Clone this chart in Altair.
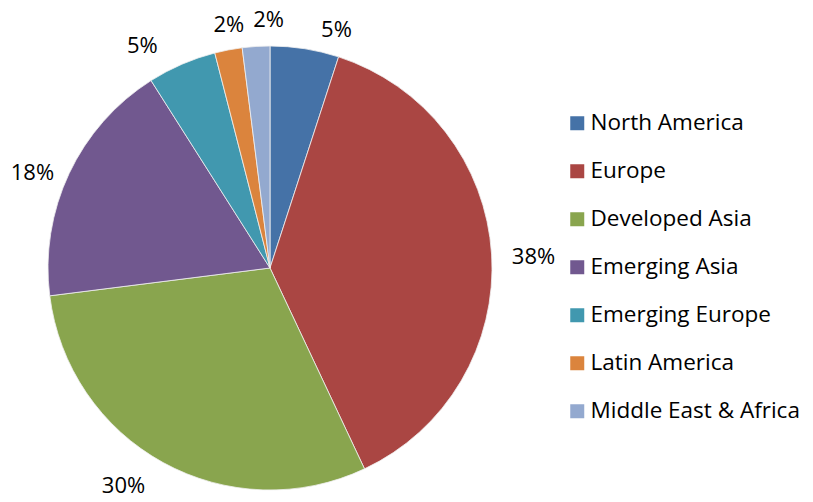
import altair as alt
import pandas as pd

regions = ["North America", "Europe", "Developed Asia", "Emerging Asia",
           "Emerging Europe", "Latin America", "Middle East & Africa"]
shares = [5, 38, 30, 18, 5, 2, 2]
colors = ["#4572A7", "#AA4643", "#89A54E", "#71588F", "#4198AF", "#DB843D", "#93A9CF"]
labels = [f"{v}%" for v in shares]

df = pd.DataFrame({"region": regions, "share": shares, "label": labels,
                   "order": list(range(len(regions)))})

FONT = "Open Sans"
CX, CY, R = 262, 260, 222

# best-fit label nudges (like the spreadsheet's automatic label placement)
label_nudge = {
    "North America": (28, 5),
    "Europe": (18, 4),
    "Developed Asia": (-28, 2),
    "Emerging Asia": (-15, 10),
    "Emerging Europe": (-30, 4),
    "Latin America": (5, -1),
    "Middle East & Africa": (14, -2),
}

pie = alt.Chart(df).mark_arc(outerRadius=R, stroke="#f0f0f0", strokeWidth=0.8).encode(
    theta=alt.Theta("share:Q", stack=True),
    order=alt.Order("order:Q"),
    color=alt.Color("region:N", scale=alt.Scale(domain=regions, range=colors), sort=regions,
                    legend=alt.Legend(title=None, orient="none", legendX=558, legendY=104,
                                      symbolType="square", symbolSize=196, symbolStrokeWidth=0,
                                      labelFontSize=22.5, labelFont=FONT, labelColor="black",
                                      rowPadding=25, labelOffset=2, padding=0, labelLimit=400)),
    x=alt.value(CX), y=alt.value(CY),
)

text_layers = []
for reg in regions:
    dx, dy = label_nudge[reg]
    t = alt.Chart(df).mark_text(radius=246, fontSize=22, font=FONT, color="black",
                                dx=dx, dy=dy).encode(
        theta=alt.Theta("share:Q", stack=True),
        order=alt.Order("order:Q"),
        text=alt.condition(alt.datum.region == reg, alt.Text("label:N"), alt.value("")),
        x=alt.value(CX), y=alt.value(CY),
    )
    text_layers.append(t)

chart = alt.layer(pie, *text_layers).properties(
    width=797, height=486, autosize=alt.AutoSizeParams(type="none"), padding=0
).configure_view(stroke=None)

chart.save("out.html", embed_options={"renderer": "svg", "actions": False})
